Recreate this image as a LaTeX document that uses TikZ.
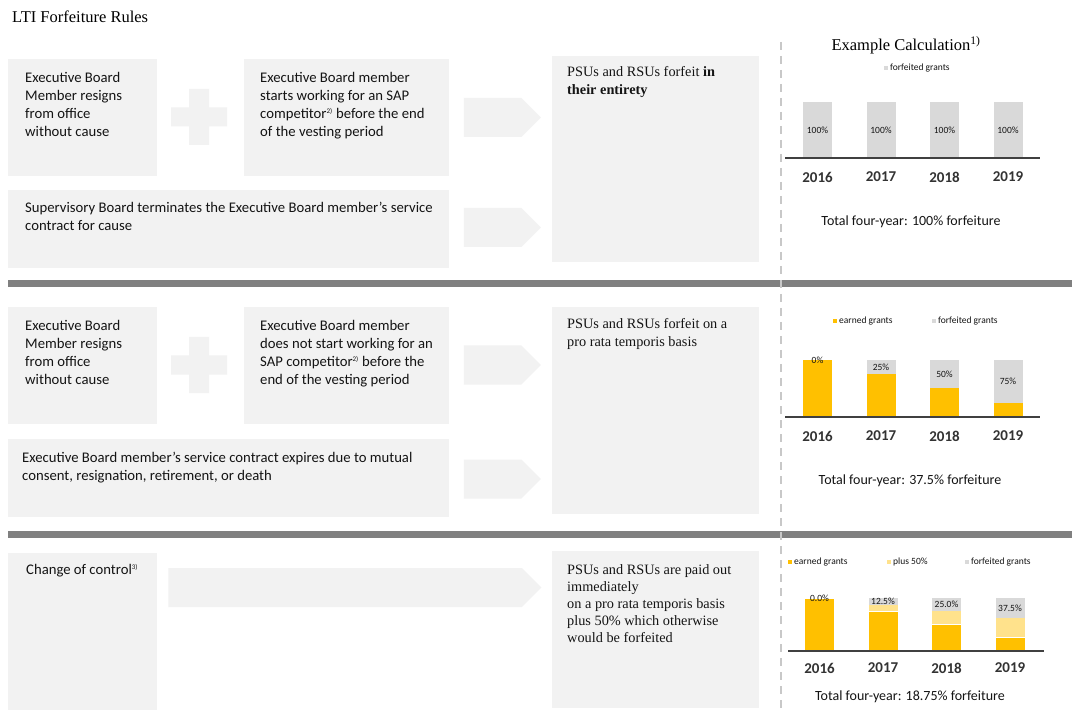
\documentclass[tikz,border=0pt]{standalone}
\usepackage{fontspec}
\setmainfont{Liberation Serif}
\setsansfont{Carlito}
\usepackage{tikz}
\definecolor{boxgray}{RGB}{242,242,242}
\definecolor{bargray}{RGB}{217,217,217}
\definecolor{earnedgold}{RGB}{255,192,0}
\definecolor{plusgold}{RGB}{255,226,140}
\definecolor{rulegray}{RGB}{128,128,128}
\definecolor{dashgray}{RGB}{200,200,200}
\definecolor{textdark}{RGB}{20,20,20}
\usetikzlibrary{shapes.symbols, positioning}
\newcommand{\supnote}[1]{\textsuperscript{\fontsize{7}{8}\selectfont #1}}

\begin{document}
\begin{tikzpicture}[
    x=1pt, y=-1pt,
    box/.style={rectangle, fill=boxgray, inner sep=0pt, outer sep=0pt, anchor=north west},
    txt/.style={inner sep=0pt, anchor=north west, align=left, text=textdark, font=\sffamily\fontsize{14.7}{18}\selectfont},
    restxt/.style={inner sep=0pt, anchor=north west, align=left, text=textdark, font=\fontsize{14.3}{18}\selectfont},
    blkarrow/.style={signal, signal to=east, signal pointer angle=90, fill=boxgray, inner sep=0pt, minimum height=39, minimum width=77},
    year/.style={font=\sffamily\bfseries\fontsize{15}{18}\selectfont, text=black!80},
    total/.style={font=\sffamily\fontsize{14}{16}\selectfont, text=textdark},
    pct/.style={font=\sffamily\fontsize{9.5}{11}\selectfont, inner sep=1pt, text=textdark},
    legend/.style={font=\sffamily\fontsize{9.5}{11}\selectfont, anchor=west, inner sep=0pt, text=textdark},
    axis/.style={line width=1.3pt, draw=black!75}
]
    \path[fill=white, use as bounding box] (0,0) rectangle (1080,714);

    \node[anchor=west, inner sep=0pt, font=\fontsize{16.5}{20}\selectfont] (title) at (12,17) {LTI Forfeiture Rules};

    % Section 1: forfeit in entirety
    \node[box, minimum width=149, minimum height=117] (resign1) at (8,59) {};
    \node[box, minimum width=205, minimum height=117] (compete1) at (244,59) {};
    \node[box, minimum width=441, minimum height=78] (cause1) at (8,190) {};
    \node[box, minimum width=207, minimum height=206] (result1) at (552,56) {};
    \fill[boxgray, shift={(199,117)}] (-10,-28) rectangle (10,28) (-28,-9.5) rectangle (28,9.5);
    \node[blkarrow] (arr1a) at (492.5,117.5) {};
    \node[blkarrow] (arr1b) at (492.5,227.5) {};

    \node[txt, below right=13pt and 17pt of resign1.north west] (resign1t) {Executive Board\\Member resigns\\from office\\without cause};
    \node[txt, below right=13pt and 16pt of compete1.north west] (compete1t) {Executive Board member\\starts working for an SAP\\competitor\supnote{2)} before the end\\of the vesting period};
    \node[txt, below right=12pt and 17pt of cause1.north west] (cause1t) {Supervisory Board terminates the Executive Board member's service\\contract for cause};
    \node[restxt, below right=10pt and 15pt of result1.north west] (result1t) {PSUs and RSUs forfeit \textbf{in}\\\textbf{their entirety}};

    % Section 2: pro rata forfeiture
    \node[box, minimum width=149, minimum height=117] (resign2) at (8,307) {};
    \node[box, minimum width=205, minimum height=117] (compete2) at (244,307) {};
    \node[box, minimum width=441, minimum height=78] (expire2) at (8,439) {};
    \node[box, minimum width=207, minimum height=207] (result2) at (552,307) {};
    \fill[boxgray, shift={(199,365)}] (-10,-28) rectangle (10,28) (-28,-9.5) rectangle (28,9.5);
    \node[blkarrow] (arr2a) at (492.5,365) {};
    \node[blkarrow] (arr2b) at (492.5,479) {};

    \node[txt, below right=13pt and 17pt of resign2.north west] (resign2t) {Executive Board\\Member resigns\\from office\\without cause};
    \node[txt, below right=13pt and 16pt of compete2.north west] (compete2t) {Executive Board member\\does not start working for an\\SAP competitor\supnote{2)} before the\\end of the vesting period};
    \node[txt, below right=13pt and 14pt of expire2.north west] (expire2t) {Executive Board member's service contract expires due to mutual\\consent, resignation, retirement, or death};
    \node[restxt, below right=11pt and 15pt of result2.north west] (result2t) {PSUs and RSUs forfeit on a\\pro rata temporis basis};

    % Section 3: change of control
    \node[box, minimum width=149, minimum height=157] (control3) at (8,553) {};
    \node[box, minimum width=207, minimum height=157] (result3) at (552,551) {};
    \node[blkarrow, minimum width=373] (arr3) at (345,587.5) {};

    \node[txt, below right=11pt and 18pt of control3.north west] (control3t) {Change of control\supnote{3)}};
    \node[restxt, below right=13pt and 15pt of result3.north west, font=\fontsize{14.3}{17}\selectfont] (result3t) {PSUs and RSUs are paid out\\immediately\\on a pro rata temporis basis\\plus 50\% which otherwise\\would be forfeited};

    % separators
    \fill[rulegray] (8,280) rectangle (1072,287);
    \fill[rulegray] (8,531) rectangle (1072,538);
    \draw[dashgray, line width=2.5pt, dash pattern=on 8pt off 6pt] (781,42) -- (781,714);

    % Example calculation charts
    \node[inner sep=0pt, font=\fontsize{16.5}{20}\selectfont] (calc) at (906,45) {Example Calculation\textsuperscript{1)}};

    % chart 1
    \fill[bargray] (884,66) rectangle (888,70);
    \node[legend] (leg1f) at (890,68) {forfeited grants};
    \foreach \i/\yr in {0/2016,1/2017,2/2018,3/2019}{
        \pgfmathsetmacro{\bx}{803+63.5*\i}
        \fill[bargray] (\bx,102) rectangle ++(29,56);
        \node[pct] (pct1-\i) at ({\bx+14.5},130) {100\%};
        \node[year] (year1-\i) at ({\bx+14.5},177) {\yr};
    }
    \draw[axis] (785,158) -- (1040,158);
    \node[total] (total1) at (911,222) {Total four-year: 100\% forfeiture};

    % chart 2
    \fill[earnedgold] (833,319) rectangle (837,323);
    \node[legend] (leg2e) at (839,321) {earned grants};
    \fill[bargray] (932,319) rectangle (936,323);
    \node[legend] (leg2f) at (938,321) {forfeited grants};
    \foreach \i/\yr/\ern in {0/2016/100,1/2017/75,2/2018/50,3/2019/25}{
        \pgfmathsetmacro{\bx}{803+63.5*\i}
        \pgfmathsetmacro{\etop}{417-0.57*\ern}
        \pgfmathtruncatemacro{\ff}{100-\ern}
        \fill[bargray] (\bx,360) rectangle ({\bx+29},\etop);
        \fill[earnedgold] (\bx,\etop) rectangle ({\bx+29},417);
        \node[pct] (pct2-\i) at ({\bx+14.5},{(360+\etop)/2}) {\ff\%};
        \node[year] (year2-\i) at ({\bx+14.5},436) {\yr};
    }
    \draw[axis] (785,417) -- (1040,417);
    \node[total] (total2) at (910,481) {Total four-year: 37.5\% forfeiture};

    % chart 3
    \fill[earnedgold] (788,560) rectangle (792,564);
    \node[legend] (leg3e) at (794,562) {earned grants};
    \fill[plusgold] (887,560) rectangle (891,564);
    \node[legend] (leg3p) at (893,562) {plus 50\%};
    \fill[bargray] (965,560) rectangle (969,564);
    \node[legend] (leg3f) at (971,562) {forfeited grants};
    \foreach \i/\yr/\ern/\lbl in {0/2016/100/0.0,1/2017/75/12.5,2/2018/50/25.0,3/2019/25/37.5}{
        \pgfmathsetmacro{\bx}{805+63.5*\i}
        \pgfmathsetmacro{\etop}{651-0.53*\ern}
        \pgfmathsetmacro{\ptop}{651-0.53*(\ern+(100-\ern)/2)}
        \fill[bargray] (\bx,598) rectangle ({\bx+29},\ptop);
        \fill[plusgold] (\bx,\ptop) rectangle ({\bx+29},\etop);
        \fill[earnedgold] (\bx,\etop) rectangle ({\bx+29},651);
        \draw[white, line width=1pt] (\bx,\etop) -- ++(29,0);
        \node[pct] (pct3-\i) at ({\bx+14.5},{(598+\ptop)/2}) {\lbl\%};
        \node[year] (year3-\i) at ({\bx+14.5},668) {\yr};
    }
    \draw[axis] (788,651) -- (1044,651);
    \node[total] (total3) at (910,697) {Total four-year: 18.75\% forfeiture};
\end{tikzpicture}
\end{document}
